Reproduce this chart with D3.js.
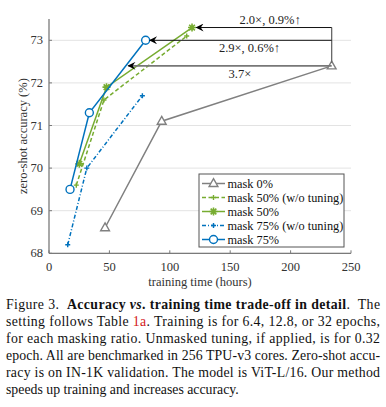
<!DOCTYPE html>
<html>
<head>
<meta charset="utf-8">
<script src="https://cdn.jsdelivr.net/npm/d3@7"></script>
<style>
  html, body { margin: 0; padding: 0; background: #fff; }
  svg { display: block; font-family: "Liberation Serif", "DejaVu Serif", serif; }
</style>
</head>
<body>
<div id="chart"></div>
<script>
// training time (hours) vs zero-shot accuracy (%)
const mask0 = [[46.4, 68.6], [93.3, 71.1], [234, 72.4]];
const mask50NoTune = [[22.6, 69.6], [45.5, 71.6], [114, 73.1]];
const mask50 = [[25.1, 70.1], [47.6, 71.9], [118.4, 73.3]];
const mask75NoTune = [[15.5, 68.2], [31.3, 70.0], [77.3, 71.7]];
const mask75 = [[17.4, 69.5], [33.4, 71.3], [80, 73.0]];

const xTicks = [0, 50, 100, 150, 200, 250];
const yTicks = [68, 69, 70, 71, 72, 73];

// speed-up annotations: from mask 0% end point to target
const arrows = [
  { from: [234, 73.3], to: [122, 73.3], label: "2.0×, 0.9%↑", lx: 183, ly: 73.38, dark: true },
  { from: [234, 73.0], to: [83.5, 73.0], label: "2.9×, 0.6%↑", lx: 166, ly: 72.73, dark: true },
  { from: [234, 72.4], to: [65.6, 72.4], label: "3.7×", lx: 158, ly: 72.12, dark: false },
];

const captionLines = [
  [["Figure 3.  ", ""], ["Accuracy ", "b"], ["vs", "bi"], [". training time trade-off in detail", "b"], [".  The", ""]],
  [["setting follows Table ", ""], ["1a", "red"], [". Training is for 6.4, 12.8, or 32 epochs,", ""]],
  [["for each masking ratio. Unmasked tuning, if applied, is for 0.32", ""]],
  [["epoch. All are benchmarked in 256 TPU-v3 cores. Zero-shot accu-", ""]],
  [["racy is on IN-1K validation. The model is ViT-L/16. Our method", ""]],
  [["speeds up training and increases accuracy.", ""]],
];

const GREY = "#808080", GREEN = "#77ac30", BLUE = "#0072bd";

const series = [
  { name: "mask 0%", data: mask0, color: GREY, dash: null, marker: "triangle" },
  { name: "mask 50% (w/o tuning)", data: mask50NoTune, color: GREEN, dash: "4,2.5", marker: "plus" },
  { name: "mask 50%", data: mask50, color: GREEN, dash: null, marker: "asterisk" },
  { name: "mask 75% (w/o tuning)", data: mask75NoTune, color: BLUE, dash: "4,2,1,2", marker: "plus" },
  { name: "mask 75%", data: mask75, color: BLUE, dash: null, marker: "circle" },
];

const width = 386, height = 407;
const svg = d3.select("#chart").append("svg")
  .attr("width", width).attr("height", height);

const x = d3.scaleLinear().domain([0, 250]).range([49, 351]);
const y = d3.scaleLinear().domain([68, 73.5]).range([253.3, 19]);

svg.append("defs").append("marker")
  .attr("id", "head")
  .attr("viewBox", "0 0 10 10")
  .attr("refX", 9).attr("refY", 5)
  .attr("markerWidth", 9).attr("markerHeight", 8)
  .attr("markerUnits", "userSpaceOnUse")
  .attr("orient", "auto")
  .append("path")
  .attr("d", "M10,5 L0,0 L3.5,5 L0,10 Z")
  .attr("fill", "#000");

// grid
svg.append("g").selectAll("line").data(yTicks).join("line")
  .attr("x1", x(0)).attr("x2", x(250))
  .attr("y1", d => y(d)).attr("y2", d => y(d))
  .attr("stroke", "#e3e3e3").attr("stroke-width", 1);

// axes
const axisColor = "#7a7a7a";
svg.append("line").attr("x1", x(0)).attr("x2", x(0)).attr("y1", y(73.5)).attr("y2", y(68))
  .attr("stroke", axisColor).attr("stroke-width", 1.3);
svg.append("line").attr("x1", x(0)).attr("x2", x(250)).attr("y1", y(68)).attr("y2", y(68))
  .attr("stroke", axisColor).attr("stroke-width", 1.3);

svg.append("g").selectAll("line").data(xTicks).join("line")
  .attr("x1", d => x(d)).attr("x2", d => x(d))
  .attr("y1", y(68)).attr("y2", y(68) - 3)
  .attr("stroke", axisColor);
svg.append("g").selectAll("line").data(yTicks).join("line")
  .attr("x1", x(0)).attr("x2", x(0) + 3)
  .attr("y1", d => y(d)).attr("y2", d => y(d))
  .attr("stroke", axisColor);

svg.append("g").selectAll("text").data(xTicks).join("text")
  .attr("x", d => x(d)).attr("y", y(68) + 18)
  .attr("text-anchor", "middle").attr("font-size", 12.5).attr("fill", "#333")
  .text(d => d);
svg.append("g").selectAll("text").data(yTicks).join("text")
  .attr("x", x(0) - 6).attr("y", d => y(d) + 4)
  .attr("text-anchor", "end").attr("font-size", 12.5).attr("fill", "#333")
  .text(d => d);

svg.append("text").attr("x", 200).attr("y", 286)
  .attr("text-anchor", "middle").attr("font-size", 12.5).attr("fill", "#333")
  .text("training time (hours)");
svg.append("text")
  .attr("transform", `translate(27,${(y(68) + y(73.5)) / 2}) rotate(-90)`)
  .attr("text-anchor", "middle").attr("font-size", 12.5).attr("fill", "#333")
  .text("zero-shot accuracy (%)");

// markers
function markerPath(type) {
  if (type === "triangle") return "M0,-4.8 L4.4,3 L-4.4,3 Z";
  if (type === "plus") return "M-2.5,0 H2.5 M0,-2.5 V2.5";
  if (type === "asterisk") {
    let p = "";
    for (let i = 0; i < 4; i++) {
      const a = i * Math.PI / 4, dx = 4 * Math.cos(a), dy = 4 * Math.sin(a);
      p += `M${-dx},${-dy} L${dx},${dy} `;
    }
    return p;
  }
  return d3.symbol(d3.symbolCircle, 50)();
}

function drawMarker(g, type, color) {
  g.append("path").attr("d", markerPath(type))
    .attr("fill", type === "triangle" || type === "circle" ? "#fff" : "none")
    .attr("stroke", color)
    .attr("stroke-width", type === "asterisk" ? 1.6 : 1.4);
}

const line = d3.line().x(d => x(d[0])).y(d => y(d[1]));

series.forEach(s => {
  const g = svg.append("g");
  g.append("path").datum(s.data).attr("d", line)
    .attr("fill", "none").attr("stroke", s.color).attr("stroke-width", 1.5)
    .attr("stroke-dasharray", s.dash);
  s.data.forEach(d => {
    drawMarker(g.append("g").attr("transform", `translate(${x(d[0])},${y(d[1])})`), s.marker, s.color);
  });
});

// annotations
svg.append("line")
  .attr("x1", x(234)).attr("x2", x(234))
  .attr("y1", y(73.3)).attr("y2", y(72.4) - 3)
  .attr("stroke", "#666").attr("stroke-width", 1.3);

arrows.forEach(a => {
  svg.append("line")
    .attr("x1", x(a.from[0])).attr("y1", y(a.from[1]))
    .attr("x2", x(a.to[0])).attr("y2", y(a.to[1]))
    .attr("stroke", a.dark ? "#111" : "#777")
    .attr("stroke-width", a.dark ? 1 : 1.6)
    .attr("marker-end", "url(#head)");
  svg.append("text").attr("x", x(a.lx)).attr("y", y(a.ly))
    .attr("text-anchor", "middle").attr("font-size", 12.5).attr("fill", "#222")
    .text(a.label);
});

// legend
const legend = svg.append("g").attr("transform", "translate(199,174)");
legend.append("rect").attr("width", 145).attr("height", 73)
  .attr("fill", "#fff").attr("stroke", "#555").attr("stroke-width", 1);
series.forEach((s, i) => {
  const row = legend.append("g").attr("transform", `translate(0,${9.5 + i * 14})`);
  row.append("line").attr("x1", 3).attr("x2", 26)
    .attr("stroke", s.color).attr("stroke-width", 1.5).attr("stroke-dasharray", s.dash);
  drawMarker(row.append("g").attr("transform", "translate(14.5,0)"), s.marker, s.color);
  row.append("text").attr("x", 28.5).attr("y", 4).attr("font-size", 12.3).attr("fill", "#111")
    .text(s.name);
});

// caption
const cap = svg.append("g");
captionLines.forEach((ln, i) => {
  const t = cap.append("text")
    .attr("x", 6).attr("y", 309 + i * 17)
    .attr("font-size", 13.8).attr("fill", "#111")
    .attr("xml:space", "preserve");
  if (i < captionLines.length - 1) {
    t.attr("textLength", 374).attr("lengthAdjust", "spacing");
  }
  ln.forEach(([str, st]) => {
    const sp = t.append("tspan").text(str);
    if (st.includes("b")) sp.attr("font-weight", "bold");
    if (st.includes("i")) sp.attr("font-style", "italic");
    if (st === "red") sp.attr("fill", "#d42020");
  });
});
</script>
</body>
</html>
